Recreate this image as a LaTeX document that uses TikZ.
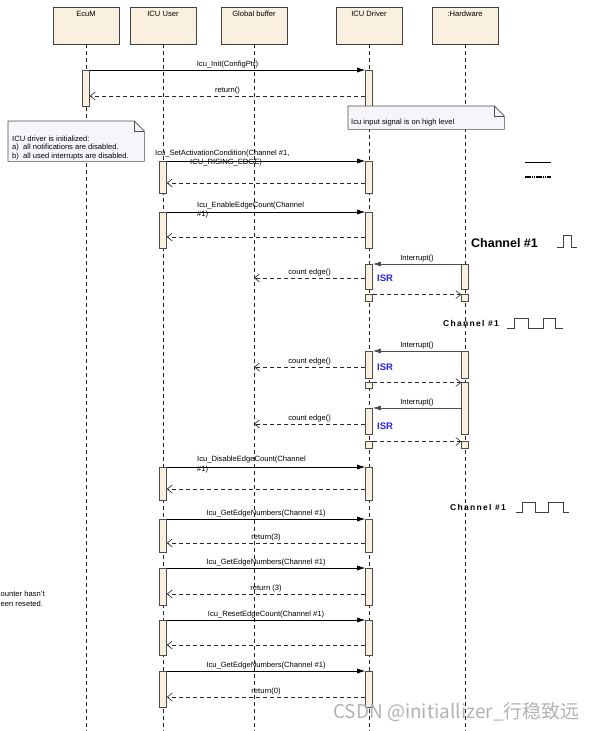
\documentclass[tikz,border=0pt]{standalone}
\usepackage{fontspec}
\setmainfont{Liberation Sans}
\newfontfamily\cjkfont{Noto Sans CJK SC}
\usetikzlibrary{arrows.meta,backgrounds,calc}
\definecolor{boxfill}{RGB}{250,240,224}
\definecolor{notefill}{RGB}{247,245,250}
\definecolor{isrblue}{RGB}{35,35,235}
\newcommand\abar[4]{\node[actbar, minimum height={(#4-#3)*1pt}] (#1) at (#2,#3) {};}
\newcommand\lsp{\kern1.3pt}
\begin{document}
\begin{tikzpicture}[x=1pt,y=-1pt,
  headbox/.style={draw=black!75, fill=boxfill, minimum width=66pt, minimum height=37pt, inner sep=0pt, line width=0.6pt},
  title/.style={font=\fontsize{7.6}{8}\selectfont, inner sep=0pt, anchor=north},
  lifeline/.style={draw=black!85, dash pattern=on 4pt off 3pt, line width=0.6pt},
  actbar/.style={draw=black!70, fill=boxfill, minimum width=7pt, inner sep=0pt, anchor=north, line width=0.6pt},
  msg/.style={draw=black, line width=0.6pt, -{Latex[length=8pt,width=5pt]}},
  intr/.style={draw=black!70, line width=0.7pt, -{Latex[length=8pt,width=5pt]}},
  ret/.style={draw=black!85, line width=0.6pt, dash pattern=on 4pt off 3pt, -{Straight Barb[length=5pt,width=8pt]}},
  lbl/.style={font=\fontsize{7.6}{8}\selectfont, inner sep=0pt},
  notebody/.style={draw=black!70, fill=notefill, line width=0.6pt},
  isr/.style={font=\bfseries\fontsize{9.5}{10}\selectfont, text=isrblue, inner sep=0pt, anchor=west},
  wave/.style={draw=black!75, line width=0.8pt}
]
\useasboundingbox (0,0) rectangle (594,731);

% heads
\node[headbox] (ecum) at (86,25.5) {};
\node[headbox] (user) at (163,25.5) {};
\node[headbox] (buf) at (254,25.5) {};
\node[headbox] (drv) at (369,25.5) {};
\node[headbox] (hw) at (465,25.5) {};
\node[title] (ecumT) at ([yshift=-4.5pt]ecum.north) {EcuM};
\node[title] (userT) at ([yshift=-4.5pt]user.north) {ICU User};
\node[title] (bufT) at ([yshift=-4.5pt]buf.north) {Global buffer};
\node[title] (drvT) at ([yshift=-4.5pt]drv.north) {ICU Driver};
\node[title] (hwT) at ([yshift=-4.5pt]hw.north) {:Hardware};

% lifelines
\coordinate (ecumB) at (86,731);
\coordinate (userB) at (163,731);
\coordinate (bufB) at (254,731);
\coordinate (drvB) at (369,731);
\coordinate (hwB) at (465,731);
\draw[lifeline] (ecum.south) -- (ecumB);
\draw[lifeline] (user.south) -- (userB);
\draw[lifeline] (buf.south) -- (bufB);
\draw[lifeline] (drv.south) -- (drvB);
\draw[lifeline] (hw.south) -- (hwB);

% activation bars
\abar{eb}{86}{70}{106}
\abar{d0}{369}{70}{106}
\abar{u1}{163}{161}{193}
\abar{d1}{369}{161}{193}
\abar{u2}{163}{212}{248}
\abar{d2}{369}{212}{248}
\abar{d3}{369}{264}{289}
\abar{h1}{465}{264}{289}
\abar{d3s}{369}{294}{301}
\abar{h1s}{465}{294}{301}
\abar{d4}{369}{351}{378}
\abar{h2}{465}{351}{378}
\abar{d4s}{369}{382}{388}
\abar{h3}{465}{382}{434}
\abar{d5}{369}{408}{434}
\abar{d5s}{369}{441}{448}
\abar{h3s}{465}{441}{448}
\abar{u3}{163}{467}{500}
\abar{d6}{369}{467}{500}
\abar{u4}{163}{519}{552}
\abar{d7}{369}{519}{552}
\abar{u5}{163}{568}{605}
\abar{d8}{369}{568}{605}
\abar{u6}{163}{620}{655}
\abar{d9}{369}{620}{655}
\abar{u7}{163}{671}{707}
\abar{d10}{369}{671}{707}

% notes
\node[minimum width=156pt, minimum height=23pt, inner sep=0pt, anchor=north west] (note1) at (348,106) {};
\draw[notebody] (note1.north west) -- ([xshift=-10pt]note1.north east) -- ([yshift=-10pt]note1.north east) -- (note1.south east) -- (note1.south west) -- cycle;
\draw[draw=black!70, line width=0.6pt] ([xshift=-10pt]note1.north east) -- ([xshift=-10pt,yshift=-10pt]note1.north east) -- ([yshift=-10pt]note1.north east);
\node[lbl, anchor=west] (note1t) at (351,123) {Icu input signal is on high level};

\node[minimum width=136pt, minimum height=40pt, inner sep=0pt, anchor=north west] (note2) at (8,121) {};
\draw[notebody] (note2.north west) -- ([xshift=-10pt]note2.north east) -- ([yshift=-10pt]note2.north east) -- (note2.south east) -- (note2.south west) -- cycle;
\draw[draw=black!70, line width=0.6pt] ([xshift=-10pt]note2.north east) -- ([xshift=-10pt,yshift=-10pt]note2.north east) -- ([yshift=-10pt]note2.north east);
\node[lbl, align=left, anchor=north west, font=\fontsize{7.6}{8.6}\selectfont] (note2t) at (12,135.5)
  {ICU driver is initialized:\\\makebox[11pt][l]{a)}all notifications are disabled.\\\makebox[11pt][l]{b)}all used interrupts are disabled.};

% messages
\draw[msg] (eb.north east) -- node[lbl, above=1.5pt] {Icu\_Init(ConfigPtr)} (d0.north west);
\draw[ret] (d0.west |- 0,96) -- node[lbl, above=1.5pt] {return()} (eb.east |- 0,96);

\draw[msg] (u1.north east) -- (d1.north west);
\node[lbl, anchor=west] (setL1) at (155,153.5) {Icu\_SetActivationCondition(Channel \#1,};
\node[lbl, anchor=west] (setL2) at (190,163) {ICU\_RISING\_EDGE)};
\draw[ret] (d1.west |- 0,183) -- (u1.east |- 0,183);

\draw[msg] (u2.north east) -- (d2.north west);
\node[lbl, anchor=west] (enL1) at (197,205.5) {Icu\_EnableEdgeCount(Channel};
\node[lbl, anchor=west] (enL2) at (197,215) {\#1)};
\draw[ret] (d2.west |- 0,237) -- (u2.east |- 0,237);

\draw[intr] (h1.north west) -- node[lbl, above=1.5pt] {Interrupt()} (d3.north east);
\draw[ret] (d3.west |- 0,278) -- node[lbl, above=1.5pt] {count edge()} (buf |- 0,278);
\draw[ret] ([yshift=-0.5pt]d3s.north east) -- ([yshift=-0.5pt]h1s.north west);
\node[isr] (isr1) at (377,278) {ISR};

\draw[intr] (h2.north west) -- node[lbl, above=1.5pt] {Interrupt()} (d4.north east);
\draw[ret] (d4.west |- 0,367) -- node[lbl, above=1.5pt] {count edge()} (buf |- 0,367);
\draw[ret] ([yshift=-0.5pt]d4s.north east) -- ([yshift=-0.5pt]h3.north west);
\node[isr] (isr2) at (377,367) {ISR};

\draw[intr] (h3.west |- 0,408) -- node[lbl, above=1.5pt] {Interrupt()} (d5.north east);
\draw[ret] (d5.west |- 0,424) -- node[lbl, above=1.5pt] {count edge()} (buf |- 0,424);
\draw[ret] ([yshift=-0.5pt]d5s.north east) -- ([yshift=-0.5pt]h3s.north west);
\node[isr] (isr3) at (377,426) {ISR};

\draw[msg] (u3.north east) -- (d6.north west);
\node[lbl, anchor=west] (disL1) at (197,460) {Icu\_DisableEdgeCount(Channel};
\node[lbl, anchor=west] (disL2) at (197,469.5) {\#1)};
\draw[ret] (d6.west |- 0,489) -- (u3.east |- 0,489);

\draw[msg] (u4.north east) -- node[lbl, above=1.5pt] {Icu\_GetEdgeNumbers(Channel \#1)} (d7.north west);
\draw[ret] (d7.west |- 0,543) -- node[lbl, above=1.5pt] {return(3)} (u4.east |- 0,543);

\draw[msg] (u5.north east) -- node[lbl, above=1.5pt] {Icu\_GetEdgeNumbers(Channel \#1)} (d8.north west);
\draw[ret] (d8.west |- 0,594) -- node[lbl, above=1.5pt] {return (3)} (u5.east |- 0,594);

\draw[msg] (u6.north east) -- node[lbl, above=1.5pt] {Icu\_ResetEdgeCount(Channel \#1)} (d9.north west);
\draw[ret] (d9.west |- 0,645) -- (u6.east |- 0,645);

\draw[msg] (u7.north east) -- node[lbl, above=1.5pt] {Icu\_GetEdgeNumbers(Channel \#1)} (d10.north west);
\draw[ret] (d10.west |- 0,697) -- node[lbl, above=1.5pt] {return(0)} (u7.east |- 0,697);

% side text (as visible at the left edge)
\node[lbl, align=left, anchor=north west, font=\fontsize{7.6}{10}\selectfont] (cnt) at (0.5,590.5) {ounter hasn't\\een reseted.};

% legend lines
\coordinate (lgA) at (525,162);
\coordinate (lgB) at (551,162);
\coordinate (lgC) at (525,177);
\coordinate (lgD) at (551,177);
\draw[black, line width=0.7pt] (lgA) -- (lgB);
\draw[black, line width=1.4pt, dash pattern=on 1.6pt off 0.6pt] (lgC) -- (lgD);

% channel waveforms
\node[font=\bfseries\fontsize{12.5}{13}\selectfont, inner sep=0pt, anchor=west] (ch1) at (471,243) {Channel \#1};
\draw[wave] (557,247) -- (563,247) -- (563,235) -- (571,235) -- (571,247) -- (577,247);

\node[font=\bfseries\fontsize{8.5}{9}\selectfont, inner sep=0pt, anchor=west] (ch2) at (443,323) {C\lsp h\lsp a\lsp n\lsp n\lsp e\lsp l\lsp\ \#\lsp 1};
\draw[wave] (507,328) -- (514,328) -- (514,318) -- (528,318) -- (528,328) -- (543,328) -- (543,318) -- (555,318) -- (555,328) -- (563,328);

\node[font=\bfseries\fontsize{8.5}{9}\selectfont, inner sep=0pt, anchor=west] (ch3) at (450,507) {C\lsp h\lsp a\lsp n\lsp n\lsp e\lsp l\lsp\ \#\lsp 1};
\draw[wave] (516,512) -- (522,512) -- (522,502) -- (535,502) -- (535,512) -- (548,512) -- (548,502) -- (563,502) -- (563,512) -- (569,512);

% watermark
\node[text=black!30, font=\cjkfont\fontsize{19}{19}\selectfont, inner sep=0pt, anchor=west] (wm) at (333,712) {CSDN @initiallizer\_行稳致远};
\end{tikzpicture}
\end{document}
